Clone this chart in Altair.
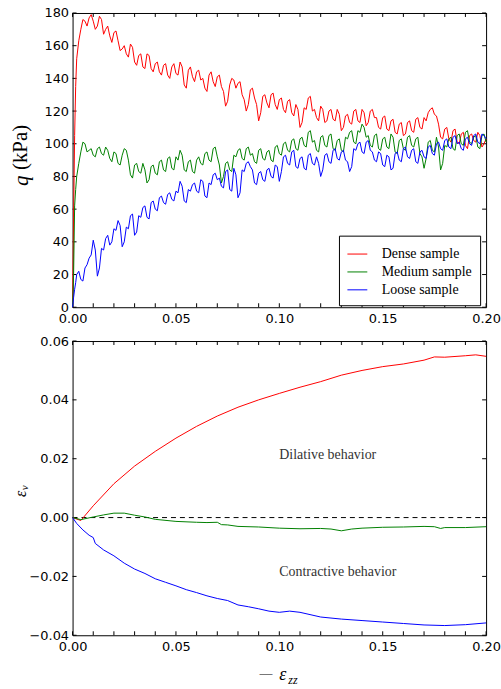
import altair as alt
import pandas as pd

# ---------------- data ----------------
strain_top = [0.0, 0.0005, 0.001, 0.0015] + [round(0.002 * i, 3) for i in range(1, 101)]
strain_mid = [round(0.003 + 0.002 * k, 3) for k in range(99)]

q_dense = [0, 55, 105, 135,
           152, 170, 175, 177, 175, 172, 176, 170, 166, 168,
           163, 158, 155, 161, 150, 154, 147, 155, 146, 149,
           144, 148, 142, 147, 143, 150, 136, 145, 141, 144,
           139, 134, 142, 138, 141, 135, 123, 136, 139, 137,
           130, 120, 133, 128, 114, 129, 125, 130, 124, 127,
           121, 126, 119, 124, 110, 122, 128, 120, 116, 123,
           113, 120, 115, 121, 108, 117, 113, 120, 114, 121,
           111, 120, 116, 110, 116, 109, 114, 107, 112, 105,
           113, 108, 115, 110, 116, 119, 122, 117, 104, 109,
           103, 108, 101, 106, 99, 105, 102, 107, 98, 103]
q_dense_mid = [163, 176, 172, 179, 170, 178, 167, 172, 162, 169,
               157, 160, 153, 159, 148, 155, 146, 154, 144, 150,
               142, 149, 140, 149, 142, 147, 134, 147, 138, 145,
               140, 132, 144, 135, 142, 132, 126, 140, 134, 138,
               127, 124, 134, 124, 119, 130, 122, 131, 121, 128,
               119, 127, 117, 121, 113, 121, 129, 121, 114, 121,
               114, 121, 114, 118, 110, 118, 112, 121, 113, 119,
               113, 121, 116, 109, 117, 108, 115, 106, 113, 106,
               114, 107, 116, 109, 114, 121, 118, 112, 103, 110,
               101, 109, 100, 107, 97, 106, 101, 105, 100]

q_medium = [0, 20, 62, 72,
            80, 95, 100, 96, 93, 97, 94, 98, 91, 95,
            88, 93, 96, 81, 87, 83, 88, 76, 86, 82,
            89, 84, 91, 85, 92, 96, 84, 89, 83, 90,
            88, 94, 90, 97, 92, 76, 88, 84, 93, 96,
            91, 97, 93, 89, 96, 91, 95, 90, 98, 94,
            100, 96, 102, 97, 103, 99, 107, 101, 96, 104,
            99, 105, 97, 102, 96, 104, 107, 101, 108, 112,
            104, 99, 105, 97, 103, 98, 106, 95, 102, 97,
            104, 99, 103, 94, 85, 101, 96, 104, 84, 99,
            103, 97, 105, 100, 107, 101, 104, 98, 105, 101]
q_medium_mid = [88, 101, 95, 97, 92, 98, 93, 96, 89, 94,
                87, 97, 90, 79, 88, 82, 84, 78, 87, 81,
                90, 83, 92, 84, 90, 93, 83, 90, 82, 92,
                87, 95, 89, 98, 87, 80, 89, 83, 92, 97,
                90, 98, 94, 88, 97, 90, 96, 89, 99, 93,
                101, 95, 103, 96, 104, 98, 108, 102, 95, 105,
                98, 106, 96, 103, 95, 103, 108, 100, 107, 110,
                105, 98, 106, 96, 104, 97, 104, 94, 103, 96,
                105, 98, 104, 92, 91, 102, 95, 98, 88, 98,
                104, 96, 106, 99, 108, 100, 105, 97, 106]

q_loose = [0, 6, 11, 15,
           20, 17, 24, 30, 41, 19, 36, 42, 38, 48,
           53, 37, 49, 56, 44, 56, 61, 55, 64, 60,
           67, 64, 69, 66, 71, 77, 65, 72, 75, 71,
           78, 68, 76, 81, 78, 74, 83, 72, 85, 67,
           84, 88, 86, 76, 82, 78, 84, 80, 87, 77,
           92, 88, 95, 86, 91, 85, 93, 88, 92, 80,
           93, 89, 96, 91, 95, 90, 83, 97, 100, 95,
           101, 96, 90, 95, 87, 93, 84, 94, 90, 97,
           92, 96, 89, 95, 92, 98, 94, 100, 97, 102,
           98, 104, 100, 97, 103, 100, 105, 101, 106, 103]
q_loose_mid = [22, 16, 26, 32, 35, 24, 35, 44, 40, 47,
               50, 40, 48, 57, 46, 55, 62, 54, 65, 59,
               68, 63, 70, 65, 70, 74, 64, 71, 76, 70,
               77, 67, 75, 82, 79, 73, 84, 71, 81, 70,
               83, 89, 84, 75, 83, 77, 85, 79, 86, 83,
               93, 87, 96, 85, 92, 84, 94, 87, 88, 84,
               94, 88, 97, 90, 96, 89, 86, 96, 101, 94,
               102, 95, 89, 94, 86, 92, 85, 95, 89, 98,
               91, 97, 88, 96, 91, 99, 93, 101, 96, 103,
               97, 105, 101, 96, 104, 99, 106, 100, 105]

ev_dense_x = [0, .004, .01, .02, .03, .04, .05, .06, .07, .08, .09, .1, .11, .12,
              .13, .14, .15, .16, .17, .175, .18, .19, .195, .2]
ev_dense = [0, -0.001, 0.004, 0.0115, 0.0175, 0.0225, 0.027, 0.031, 0.0345, 0.0375,
            0.040, 0.0422, 0.0443, 0.0462, 0.0484, 0.050, 0.0513, 0.0522, 0.0535, 0.0546,
            0.0545, 0.0550, 0.0553, 0.0548]

ev_medium_x = [0, .004, .01, .015, .02, .025, .03, .035, .04, .05, .06, .065, .07, .072,
               .075, .08, .09, .1, .11, .12, .125, .13, .135, .14, .15, .16, .17, .175,
               .178, .18, .19, .2]
ev_medium = [0, -0.0007, 0.0002, 0.0009, 0.0015, 0.0015, 0.0008, 0.0002, -0.0006, -0.0013,
             -0.0016, -0.0017, -0.0016, -0.0024, -0.0025, -0.003, -0.0032, -0.0036, -0.0038,
             -0.0037, -0.0039, -0.0045, -0.0039, -0.0036, -0.0033, -0.0032, -0.003, -0.0031,
             -0.0037, -0.0034, -0.0034, -0.0031]

ev_loose_x = [0, .002, .005, .008, .01, .011, .015, .02, .025, .03, .035, .04, .045, .05,
              .055, .06, .065, .07, .075, .08, .085, .09, .095, .1, .105, .11, .12, .13,
              .14, .15, .16, .17, .18, .19, .2]
ev_loose = [0, -0.002, -0.0042, -0.006, -0.0068, -0.0088, -0.0110, -0.0130, -0.0155, -0.0175,
            -0.019, -0.0208, -0.022, -0.0232, -0.0245, -0.0255, -0.0266, -0.0275, -0.0282,
            -0.0297, -0.0303, -0.031, -0.0318, -0.0322, -0.0318, -0.0322, -0.0338, -0.0345,
            -0.0350, -0.0355, -0.036, -0.0365, -0.0367, -0.0364, -0.0358]

names = ["Dense sample", "Medium sample", "Loose sample"]
colors = ["#ff0000", "#008000", "#0000ff"]

x_ticks = [round(0.01 * i, 2) for i in range(21)]
x_labels = [0.0, 0.05, 0.10, 0.15, 0.20]
q_ticks = [0, 20, 40, 60, 80, 100, 120, 140, 160, 180]
ev_ticks = [-0.04, -0.02, 0.0, 0.02, 0.04, 0.06]

annotations = ["Dilative behavior", "Contractive behavior"]
ann_x = [0.10, 0.10]
ann_y = [0.02, -0.02]

# ---------------- tables ----------------
rows = []
for name, vals, mids in zip(names, [q_dense, q_medium, q_loose],
                            [q_dense_mid, q_medium_mid, q_loose_mid]):
    for s, v in zip(strain_top, vals):
        rows.append({"strain": s, "q": v, "sample": name})
    for s, v in zip(strain_mid, mids):
        rows.append({"strain": s, "q": v, "sample": name})
top_df = pd.DataFrame(rows)

rows = []
for name, xs, vals in zip(names, [ev_dense_x, ev_medium_x, ev_loose_x], [ev_dense, ev_medium, ev_loose]):
    for s, v in zip(xs, vals):
        rows.append({"strain": s, "ev": v, "sample": name})
bot_df = pd.DataFrame(rows)

W, H = 416, 296
TL = 4  # inward tick length

xscale = alt.Scale(domain=[0, 0.2], nice=False, zero=False)
qscale = alt.Scale(domain=[0, 180], nice=False)
evscale = alt.Scale(domain=[-0.04, 0.06], nice=False, zero=False)
cscale = alt.Scale(domain=names, range=colors)

xaxis = alt.Axis(title=None, values=x_labels, format=".2f", labelPadding=5)
qaxis = alt.Axis(title=None, values=q_ticks, format="d", labelPadding=4)
evaxis = alt.Axis(title=None, values=ev_ticks, format=".2f", labelPadding=4)

legend = alt.Legend(title=None, orient="none", legendX=268, legendY=224,
                    symbolType="stroke", symbolSize=400, symbolStrokeWidth=1,
                    labelFont="Liberation Serif", labelFontSize=14, labelColor="black",
                    labelOffset=14, padding=8, strokeColor="black", fillColor="white",
                    cornerRadius=0, rowPadding=0, labelLimit=200)


def tick_layers(yfield, yscale, yaxis, yvals):
    xt = pd.DataFrame({"strain": x_ticks})
    yt = pd.DataFrame({yfield: yvals})
    rule = dict(color="black", strokeWidth=1)
    xb = alt.Chart(xt).mark_rule(**rule).encode(
        x=alt.X("strain:Q", scale=xscale, axis=xaxis), y=alt.value(H), y2=alt.value(H - TL))
    xtp = alt.Chart(xt).mark_rule(**rule).encode(
        x=alt.X("strain:Q", scale=xscale, axis=xaxis), y=alt.value(0), y2=alt.value(TL))
    yl = alt.Chart(yt).mark_rule(**rule).encode(
        y=alt.Y(f"{yfield}:Q", scale=yscale, axis=yaxis), x=alt.value(0), x2=alt.value(TL))
    yr = alt.Chart(yt).mark_rule(**rule).encode(
        y=alt.Y(f"{yfield}:Q", scale=yscale, axis=yaxis), x=alt.value(W), x2=alt.value(W - TL))
    return [xb, xtp, yl, yr]


# ---------------- top panel ----------------
top_lines = alt.Chart(top_df).mark_line(strokeWidth=1).encode(
    x=alt.X("strain:Q", scale=xscale, axis=xaxis),
    y=alt.Y("q:Q", scale=qscale, axis=qaxis),
    color=alt.Color("sample:N", scale=cscale, legend=legend),
)

qt1 = alt.Chart(pd.DataFrame({"t": ["q"]})).mark_text(
    angle=270, align="left", baseline="middle", font="Liberation Serif",
    fontSize=21, fontStyle="italic", color="black").encode(
    text="t:N", x=alt.value(-51), y=alt.value(174))
qt2 = alt.Chart(pd.DataFrame({"t": ["(kPa)"]})).mark_text(
    angle=270, align="left", baseline="middle", font="Liberation Serif",
    fontSize=21, color="black").encode(
    text="t:N", x=alt.value(-52), y=alt.value(158))

top = alt.layer(*tick_layers("q", qscale, qaxis, q_ticks), top_lines, qt1, qt2).properties(
    width=W, height=H)

# ---------------- bottom panel ----------------
zero_line = alt.Chart(pd.DataFrame({"strain": [0.0, 0.2], "ev": [0.0, 0.0]})).mark_line(
    color="black", strokeWidth=1, strokeDash=[5, 4]).encode(
    x=alt.X("strain:Q", scale=xscale, axis=xaxis),
    y=alt.Y("ev:Q", scale=evscale, axis=evaxis))

bot_lines = alt.Chart(bot_df).mark_line(strokeWidth=1).encode(
    x=alt.X("strain:Q", scale=xscale, axis=xaxis),
    y=alt.Y("ev:Q", scale=evscale, axis=evaxis),
    color=alt.Color("sample:N", scale=cscale, legend=None),
)

ann = alt.Chart(pd.DataFrame({"strain": ann_x, "ev": ann_y, "t": annotations})).mark_text(
    align="left", baseline="alphabetic", font="Liberation Serif", fontSize=14,
    color="#333333").encode(
    x=alt.X("strain:Q", scale=xscale, axis=xaxis),
    y=alt.Y("ev:Q", scale=evscale, axis=evaxis),
    text="t:N")

ev1 = alt.Chart(pd.DataFrame({"t": ["ε"]})).mark_text(
    angle=270, align="left", baseline="middle", font="Liberation Serif",
    fontSize=16, fontStyle="italic", color="black").encode(
    text="t:N", x=alt.value(-52), y=alt.value(157))
ev2 = alt.Chart(pd.DataFrame({"t": ["v"]})).mark_text(
    angle=270, align="left", baseline="middle", font="Liberation Serif",
    fontSize=11, fontStyle="italic", color="black").encode(
    text="t:N", x=alt.value(-48), y=alt.value(150))

xt1 = alt.Chart(pd.DataFrame({"t": ["—"]})).mark_text(
    align="left", baseline="alphabetic", font="Liberation Serif", fontSize=13,
    color="black").encode(text="t:N", x=alt.value(188), y=alt.value(338))
xt2 = alt.Chart(pd.DataFrame({"t": ["ε"]})).mark_text(
    align="left", baseline="alphabetic", font="Liberation Serif", fontSize=18,
    fontStyle="italic", color="black").encode(text="t:N", x=alt.value(208), y=alt.value(341))
xt3 = alt.Chart(pd.DataFrame({"t": ["zz"]})).mark_text(
    align="left", baseline="alphabetic", font="Liberation Serif", fontSize=12,
    fontStyle="italic", color="black").encode(text="t:N", x=alt.value(217), y=alt.value(345))

bottom = alt.layer(*tick_layers("ev", evscale, evaxis, ev_ticks), zero_line, bot_lines, ann,
                   ev1, ev2, xt1, xt2, xt3).properties(width=W, height=H)

chart = alt.vconcat(top, bottom, spacing=8).resolve_scale(color="independent").properties(
    padding={"left": 9, "top": 4, "right": 0, "bottom": 2}
).configure_view(stroke="black", strokeWidth=1).configure_axis(
    grid=False, ticks=False, domain=False, labelFont="DejaVu Sans", labelFontSize=13,
    labelColor="black", labelFlush=False, labelOverlap=False)

chart.save("out.html", embed_options={"renderer": "svg", "actions": False})
